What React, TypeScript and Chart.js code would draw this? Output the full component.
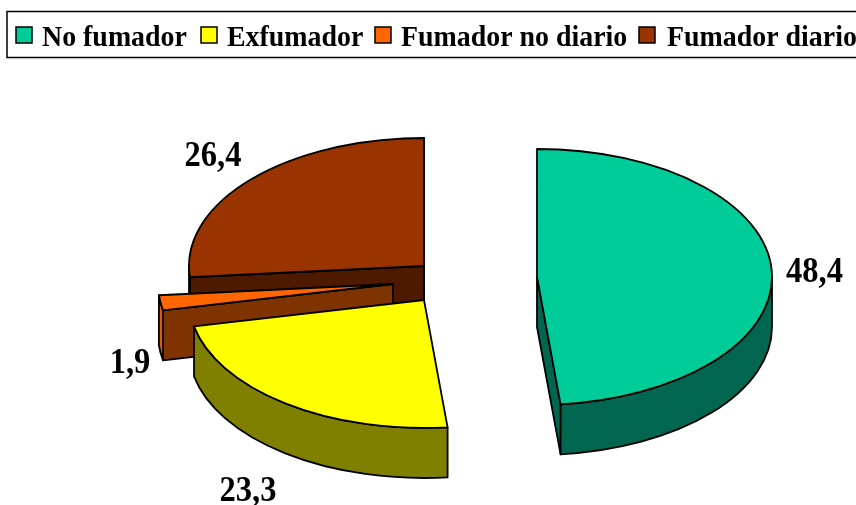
import React, { useEffect, useRef } from "react";
import { Chart, registerables } from "chart.js";

Chart.register(...registerables);

const categories = ["No fumador", "Exfumador", "Fumador no diario", "Fumador diario"];
const values = [48.4, 23.3, 1.9, 26.4];
const valueLabels = ["48,4", "23,3", "1,9", "26,4"];

const topColors = ["#00cc99", "#ffff00", "#ff6600", "#993300"];
const rimColors = ["#006650", "#808000", "#e05a00", "#4d1a00"];
const wallColors = ["#006650", "#808000", "#7f3300", "#4d1a00"];

// Layout of the tilted pie
const apexX = [537, 424, 393, 424];
const apexY = [277, 300, 284, 266];
const SQUASH = 128 / 235;
const DEPTH = 50;
const drawOrder = [3, 2, 1, 0];
const labelX = [814.5, 248, 130, 213];
const labelBase = [282, 501, 373, 166];

const legendBoxX = [16, 201, 375, 639];
const legendTextX = [42, 227, 401, 667];
const SERIF = '"Liberation Serif", "Times New Roman", serif';
const TEXT_SQUEEZE = 0.93;

const TWO_PI = Math.PI * 2;

function squeezedText(ctx: any, text: string, x: number, y: number) {
  ctx.save();
  ctx.translate(x, y);
  ctx.scale(TEXT_SQUEEZE, 1);
  ctx.fillText(text, 0, 0);
  ctx.restore();
}

const piePlugin = {
  id: "tiltedPie",
  beforeDatasetDraw(chart: any, args: any) {
    const { ctx } = chart;
    const arcs = chart.getDatasetMeta(args.index).data;
    ctx.save();
    ctx.lineWidth = 1.8;
    ctx.strokeStyle = "#000";
    ctx.lineJoin = "round";
    for (const i of drawOrder) {
      const arc = arcs[i];
      const R = arc.outerRadius;
      const a0 = arc.startAngle;
      const a1 = arc.endAngle;
      const ax = apexX[i];
      const ay = apexY[i];
      const ptX = (a: number) => ax + R * Math.cos(a);
      const ptY = (a: number) => ay + R * SQUASH * Math.sin(a);

      // radial walls that face the viewer
      const wall = (a: number) => {
        ctx.beginPath();
        ctx.moveTo(ax, ay);
        ctx.lineTo(ptX(a), ptY(a));
        ctx.lineTo(ptX(a), ptY(a) + DEPTH);
        ctx.lineTo(ax, ay + DEPTH);
        ctx.closePath();
        ctx.fillStyle = wallColors[i];
        ctx.fill();
        ctx.stroke();
      };
      if (Math.cos(a0) < 0) wall(a0);
      if (Math.cos(a1) > 0) wall(a1);

      // outer rim on the front half of the ellipse
      for (const base of [-TWO_PI, 0, TWO_PI]) {
        const s = Math.max(a0, base);
        const e = Math.min(a1, base + Math.PI);
        if (e <= s) continue;
        ctx.beginPath();
        ctx.ellipse(ax, ay, R, R * SQUASH, 0, s, e);
        ctx.ellipse(ax, ay + DEPTH, R, R * SQUASH, 0, e, s, true);
        ctx.closePath();
        ctx.fillStyle = rimColors[i];
        ctx.fill();
        ctx.stroke();
      }

      // top face, drawn by the arc element itself
      ctx.save();
      ctx.translate(ax, ay);
      ctx.scale(1, SQUASH);
      ctx.translate(-arc.x, -arc.y);
      arc.draw(ctx);
      ctx.restore();
      ctx.beginPath();
      ctx.moveTo(ax, ay);
      ctx.ellipse(ax, ay, R, R * SQUASH, 0, a0, a1);
      ctx.closePath();
      ctx.stroke();
    }
    ctx.restore();
    return false;
  },
  afterDraw(chart: any) {
    const { ctx } = chart;
    ctx.save();
    // legend
    ctx.strokeStyle = "#000";
    ctx.lineWidth = 1.5;
    ctx.strokeRect(7, 11.5, 860, 46);
    ctx.textAlign = "left";
    ctx.textBaseline = "alphabetic";
    ctx.fillStyle = "#000";
    ctx.font = `bold 30px ${SERIF}`;
    categories.forEach((c, i) => {
      ctx.fillStyle = topColors[i];
      ctx.fillRect(legendBoxX[i], 27, 16, 16);
      ctx.strokeRect(legendBoxX[i], 27, 16, 16);
      ctx.fillStyle = "#000";
      squeezedText(ctx, c, legendTextX[i], 46);
    });
    // value labels
    ctx.font = `bold 35px ${SERIF}`;
    ctx.textAlign = "center";
    valueLabels.forEach((t, i) => squeezedText(ctx, t, labelX[i], labelBase[i]));
    ctx.restore();
  },
};

export default function App() {
  const ref = useRef<HTMLCanvasElement>(null);
  useEffect(() => {
    document.body.style.margin = "0";
    document.body.style.background = "#fff";
    const chart = new Chart(ref.current!, {
      type: "pie",
      data: {
        labels: categories,
        datasets: [{ data: values, backgroundColor: topColors, borderWidth: 0 }],
      },
      options: {
        responsive: false,
        animation: false,
        radius: 235,
        plugins: { legend: { display: false }, tooltip: { enabled: false } },
      } as any,
      plugins: [piePlugin],
    });
    return () => chart.destroy();
  }, []);
  return <canvas ref={ref} width={856} height={505} style={{ display: "block" }} />;
}
